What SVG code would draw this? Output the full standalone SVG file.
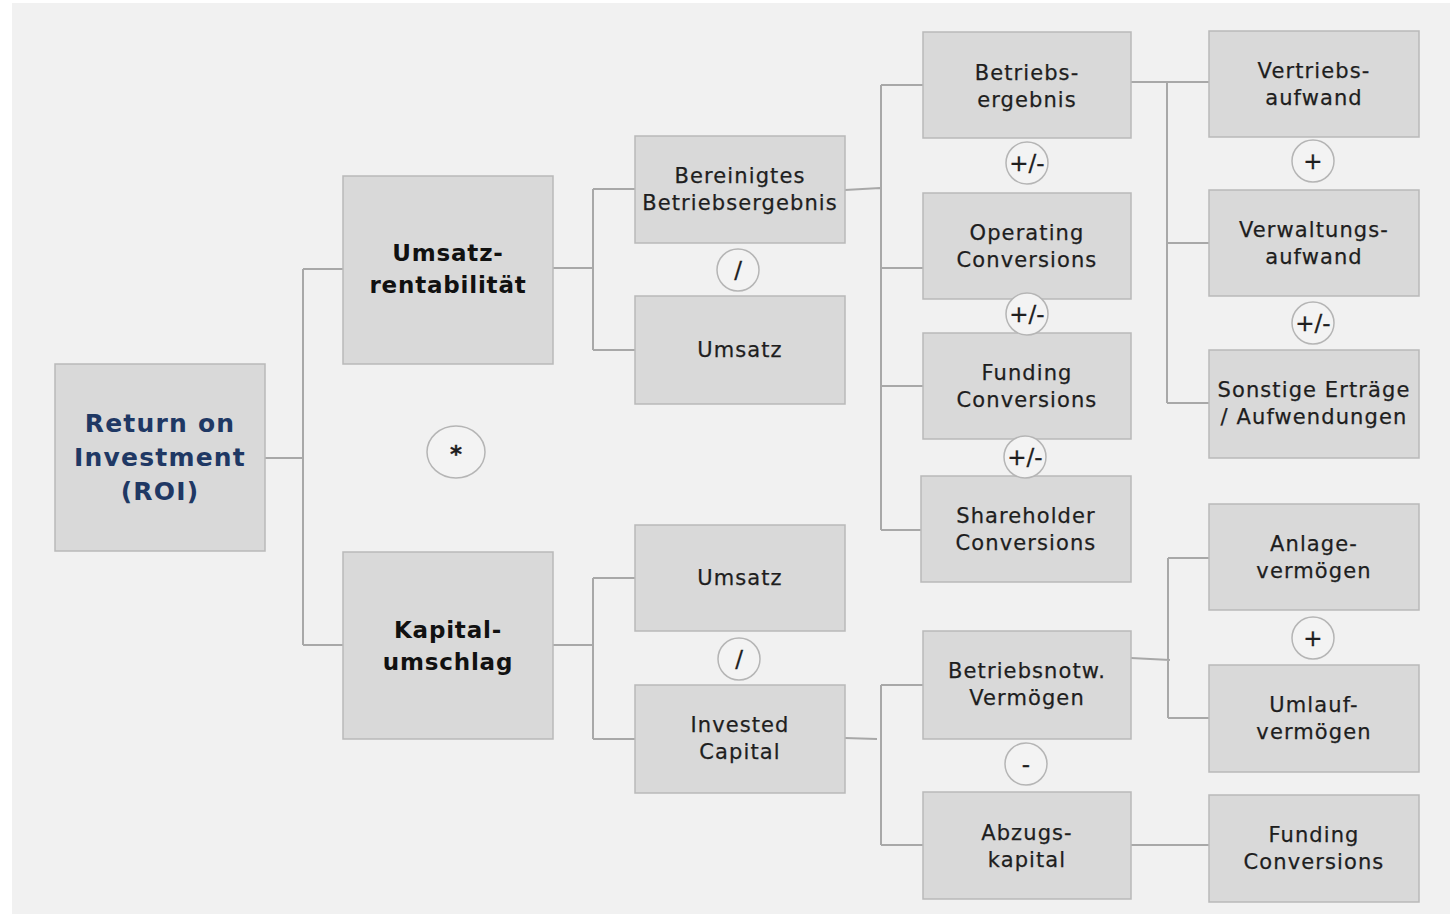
<svg xmlns="http://www.w3.org/2000/svg" width="1450" height="914" viewBox="0 0 1450 914">
<style>
.bg{fill:#f1f1f1}
.box{fill:#d9d9d9;stroke:#b9b9b9;stroke-width:1.5}
.t{font-family:"DejaVu Sans",Verdana,sans-serif;font-size:21px;letter-spacing:1.1px;fill:#1e1e1e;stroke:#1e1e1e;stroke-width:0.25;text-anchor:middle}
.b{font-family:"DejaVu Sans",Verdana,sans-serif;font-size:23px;font-weight:bold;letter-spacing:0.8px;fill:#111;text-anchor:middle}
.r{font-family:"DejaVu Sans",Verdana,sans-serif;font-size:25px;font-weight:bold;letter-spacing:1.2px;fill:#1f3864;text-anchor:middle}
.op{fill:#f3f3f3;stroke:#b5b5b5;stroke-width:1.5}
.ot{font-family:"DejaVu Sans",Verdana,sans-serif;font-size:23px;fill:#1e1e1e;stroke:#1e1e1e;stroke-width:0.3;text-anchor:middle}
.c{fill:none;stroke:#a8a8a8;stroke-width:2}
</style>
<rect class="bg" x="12" y="3" width="1438" height="911"/>
<g id="connectors">
<path class="c" d="M265,458 H303 M303,269 V645 M303,269 H343 M303,645 H343"/>
<path class="c" d="M553,268 H593 M593,189 V350 M593,189 H635 M593,350 H635"/>
<path class="c" d="M553,645 H593 M593,578 V739 M593,578 H635 M593,739 H635"/>
<path class="c" d="M845,190 L880,188 M881,85 V530 M881,85 H923 M881,268 H923 M881,386 H923 M881,530 H921"/>
<path class="c" d="M1131,82 H1209 M1167,82 V403 M1167,243 H1209 M1167,403 H1209"/>
<path class="c" d="M845,738 L877,739 M881,685 V845 M881,685 H923 M881,845 H923"/>
<path class="c" d="M1131,658 L1170,660 M1168,558 V718 M1168,558 H1209 M1168,718 H1209"/>
<path class="c" d="M1131,845 H1209"/>
</g>
<g id="roi"><rect class="box" x="55" y="364" width="210" height="187"/><text class="r" x="160" y="432">Return on</text><text class="r" x="160" y="466">Investment</text><text class="r" x="160" y="500">(ROI)</text></g>
<g id="umsatzrentabilitaet"><rect class="box" x="343" y="176" width="210" height="188"/><text class="b" x="448" y="261">Umsatz-</text><text class="b" x="448" y="293">rentabilität</text></g>
<g id="kapitalumschlag"><rect class="box" x="343" y="552" width="210" height="187"/><text class="b" x="448" y="638">Kapital-</text><text class="b" x="448" y="670">umschlag</text></g>
<g id="bereinigtes"><rect class="box" x="635" y="136" width="210" height="107"/><text class="t" x="740" y="183">Bereinigtes</text><text class="t" x="740" y="210">Betriebsergebnis</text></g>
<g id="umsatz1"><rect class="box" x="635" y="296" width="210" height="108"/><text class="t" x="740" y="357">Umsatz</text></g>
<g id="umsatz2"><rect class="box" x="635" y="525" width="210" height="106"/><text class="t" x="740" y="585">Umsatz</text></g>
<g id="invested"><rect class="box" x="635" y="685" width="210" height="108"/><text class="t" x="740" y="732">Invested</text><text class="t" x="740" y="759">Capital</text></g>
<g id="betriebsergebnis"><rect class="box" x="923" y="32" width="208" height="106"/><text class="t" x="1027" y="80">Betriebs-</text><text class="t" x="1027" y="107">ergebnis</text></g>
<g id="operating"><rect class="box" x="923" y="193" width="208" height="106"/><text class="t" x="1027" y="240">Operating</text><text class="t" x="1027" y="267">Conversions</text></g>
<g id="funding1"><rect class="box" x="923" y="333" width="208" height="106"/><text class="t" x="1027" y="380">Funding</text><text class="t" x="1027" y="407">Conversions</text></g>
<g id="shareholder"><rect class="box" x="921" y="476" width="210" height="106"/><text class="t" x="1026" y="523">Shareholder</text><text class="t" x="1026" y="550">Conversions</text></g>
<g id="betriebsnotw"><rect class="box" x="923" y="631" width="208" height="108"/><text class="t" x="1027" y="678">Betriebsnotw.</text><text class="t" x="1027" y="705">Vermögen</text></g>
<g id="abzugskapital"><rect class="box" x="923" y="792" width="208" height="107"/><text class="t" x="1027" y="840">Abzugs-</text><text class="t" x="1027" y="867">kapital</text></g>
<g id="vertrieb"><rect class="box" x="1209" y="31" width="210" height="106"/><text class="t" x="1314" y="78">Vertriebs-</text><text class="t" x="1314" y="105">aufwand</text></g>
<g id="verwaltung"><rect class="box" x="1209" y="190" width="210" height="106"/><text class="t" x="1314" y="237">Verwaltungs-</text><text class="t" x="1314" y="264">aufwand</text></g>
<g id="sonstige"><rect class="box" x="1209" y="350" width="210" height="108"/><text class="t" x="1314" y="397">Sonstige Erträge</text><text class="t" x="1314" y="424">/ Aufwendungen</text></g>
<g id="anlage"><rect class="box" x="1209" y="504" width="210" height="106"/><text class="t" x="1314" y="551">Anlage-</text><text class="t" x="1314" y="578">vermögen</text></g>
<g id="umlauf"><rect class="box" x="1209" y="665" width="210" height="107"/><text class="t" x="1314" y="712">Umlauf-</text><text class="t" x="1314" y="739">vermögen</text></g>
<g id="funding2"><rect class="box" x="1209" y="795" width="210" height="107"/><text class="t" x="1314" y="842">Funding</text><text class="t" x="1314" y="869">Conversions</text></g>
<g id="op-mul"><ellipse class="op" cx="456" cy="452" rx="29" ry="26"/><text class="ot" x="456" y="462" font-size="20" font-weight="bold">*</text></g>
<g id="op-div1"><circle class="op" cx="738" cy="270" r="21"/><text class="ot" x="738" y="278">/</text></g>
<g id="op-div2"><circle class="op" cx="739" cy="659" r="21"/><text class="ot" x="739" y="667">/</text></g>
<g id="op-pm1"><circle class="op" cx="1027" cy="163" r="21"/><text class="ot" x="1027" y="171">+/-</text></g>
<g id="op-pm2"><circle class="op" cx="1027" cy="314" r="21"/><text class="ot" x="1027" y="322">+/-</text></g>
<g id="op-pm3"><circle class="op" cx="1025" cy="457" r="21"/><text class="ot" x="1025" y="465">+/-</text></g>
<g id="op-minus"><circle class="op" cx="1026" cy="764" r="21"/><text class="ot" x="1026" y="772">-</text></g>
<g id="op-plus1"><circle class="op" cx="1313" cy="161" r="21"/><text class="ot" x="1313" y="169">+</text></g>
<g id="op-pm4"><circle class="op" cx="1313" cy="323" r="21"/><text class="ot" x="1313" y="331">+/-</text></g>
<g id="op-plus2"><circle class="op" cx="1313" cy="638" r="21"/><text class="ot" x="1313" y="646">+</text></g>
</svg>
